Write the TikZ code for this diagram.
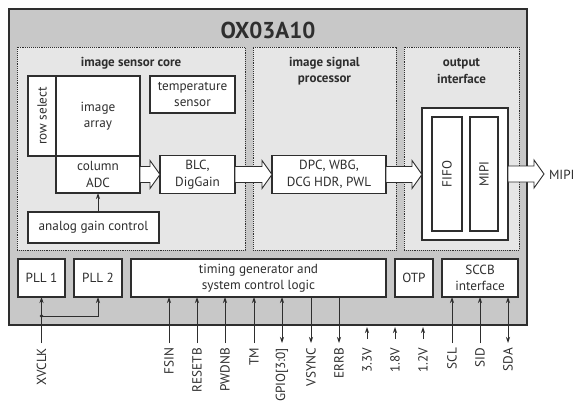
\documentclass[tikz,border=0pt]{standalone}
\usepackage{fontspec}
\setmainfont{PT Sans}
\usetikzlibrary{arrows.meta,calc}
\definecolor{outergray}{HTML}{C8C8C8}
\definecolor{secgray}{HTML}{E6E6E6}
\definecolor{edgecol}{HTML}{2E2E2E}
\newcommand\fatarr[2]{\draw[fatstyle] let \p1=(#1), \p2=(#2) in (\x1,\y1+8) -- (\x2-10,\y1+8) -- (\x2-10,\y1+14) -- (\x2,\y1) -- (\x2-10,\y1-14) -- (\x2-10,\y1-8) -- (\x1,\y1-8) -- cycle;}
\begin{document}
\begin{tikzpicture}[x=1pt,y=-1pt,
  every node/.style={inner sep=0pt, outer sep=0pt, font=\fontsize{13.2}{16.5}\selectfont, text=edgecol, align=center},
  chipbox/.style={draw=edgecol, line width=1.4pt, fill=outergray},
  secbox/.style={draw=edgecol, densely dotted, line width=0.9pt, fill=secgray},
  box/.style={draw=edgecol, line width=1.1pt, fill=white},
  sectitle/.style={font=\fontsize{13}{16.5}\selectfont\bfseries},
  fatstyle/.style={draw=edgecol, line width=0.9pt, fill=white, line join=miter},
  sig/.style={draw=edgecol, line width=0.8pt},
  arr/.style={sig, -{Stealth[length=6pt,width=4pt]}},
  darr/.style={sig, {Stealth[length=6pt,width=4pt]}-{Stealth[length=6pt,width=4pt]}},
  pinlab/.style={rotate=90, anchor=east}
]
\useasboundingbox (0,0) rectangle (579,402);
\fill[white] (0,0) rectangle (579,402);

% chip
\node[chipbox, minimum width=518, minimum height=316] (chip) at (268,167) {};
\node[font=\fontsize{23}{25}\selectfont\bfseries] (title) at (268,30) {OX03A10};

% sections
\node[secbox, minimum width=228, minimum height=203] (sec1) at (131,148.5) {};
\node[secbox, minimum width=143, minimum height=203] (sec2) at (324.5,148.5) {};
\node[secbox, minimum width=115, minimum height=203] (sec3) at (461.5,148.5) {};
\node[sectitle] (t1) at (131,63) {image sensor core};
\node[sectitle] (t2) at (324.5,71) {image signal\\processor};
\node[sectitle] (t3) at (461.5,71) {output\\interface};

% image sensor core
\node[box, minimum width=28, minimum height=80] (rowsel) at (42,116) {};
\node[rotate=90] (rowseltxt) at (rowsel) {row select};
\node[box, minimum width=84, minimum height=80] (array) at (98,116) {image\\array};
\node[box, minimum width=84, minimum height=37] (adc) at (98,174.5) {column\\ADC};
\node[box, minimum width=85, minimum height=37] (temp) at (192.5,94.5) {temperature\\sensor};
\node[box, minimum width=75, minimum height=38] (blc) at (197.5,174.5) {BLC,\\DigGain};
\node[box, minimum width=131, minimum height=31] (agc) at (93.5,227.5) {analog gain control};

% ISP
\node[box, minimum width=114, minimum height=38] (dpc) at (329,174.5) {DPC, WBG,\\DCG HDR, PWL};

% output interface
\node[box, minimum width=86, minimum height=132] (outbox) at (465,174) {};
\node[box, minimum width=30, minimum height=114] (fifo) at (447,174) {};
\node[rotate=90] (fifotxt) at (fifo) {FIFO};
\node[box, minimum width=28, minimum height=114] (mipi) at (484,174) {};
\node[rotate=90] (mipitxt) at (mipi) {MIPI};
\coordinate (mipiend) at (544,174.5);
\node[anchor=west] (mipilab) at (549,175) {MIPI};

% fat arrows
\fatarr{adc.east}{blc.west}
\fatarr{blc.east}{dpc.west}
\fatarr{dpc.east}{outbox.west}
\fatarr{outbox.east}{mipiend}

\draw[arr] (adc.south |- agc.north) -- (adc.south);

% bottom row
\node[box, minimum width=47, minimum height=38] (pll1) at (41.5,278) {PLL 1};
\node[box, minimum width=48, minimum height=38] (pll2) at (98,278) {PLL 2};
\node[box, minimum width=255, minimum height=38] (timing) at (258.5,278) {timing generator and\\system control logic};
\node[box, minimum width=38, minimum height=38] (otp) at (414,278) {OTP};
\node[box, minimum width=76, minimum height=38] (sccb) at (480,278) {SCCB\\interface};

% pins
\foreach \nm/\x/\lab in {xvclk/41.5/XVCLK, fsin/169/FSIN, resetb/197/RESETB, pwdnb/225/PWDNB, tm/254/TM, gpio/282/GPIO[3:0], vsync/311/VSYNC, errb/339/ERRB, vthree/367/3.3V, vone/395/1.8V, vtwo/423/1.2V, scl/452/SCL, sid/480/SID, sda/508/SDA}{
  \coordinate (\nm) at (\x,343);
  \node[pinlab] (\nm lab) at (\x,348) {\lab};
}
\coordinate (j) at (41.5,316);
\draw[arr] (xvclk) -- (pll1.south);
\draw[arr] (j) -| (pll2.south);
\fill[edgecol] (j) circle (1.8);

\foreach \nm in {fsin,resetb,pwdnb,tm}{\draw[arr] (\nm) -- (\nm |- timing.south);}
\draw[darr] (gpio) -- (gpio |- timing.south);
\foreach \nm in {vsync,errb}{\draw[arr] (\nm |- timing.south) -- (\nm);}
\foreach \nm in {vthree,vone,vtwo}{\draw[arr] ($(\nm)+(0,-4)$) -- ($(\nm |- chip.south)+(0,2)$);}
\foreach \nm in {scl,sid}{\draw[arr] (\nm) -- (\nm |- sccb.south);}
\draw[darr] (sda) -- (sda |- sccb.south);
\end{tikzpicture}
\end{document}
